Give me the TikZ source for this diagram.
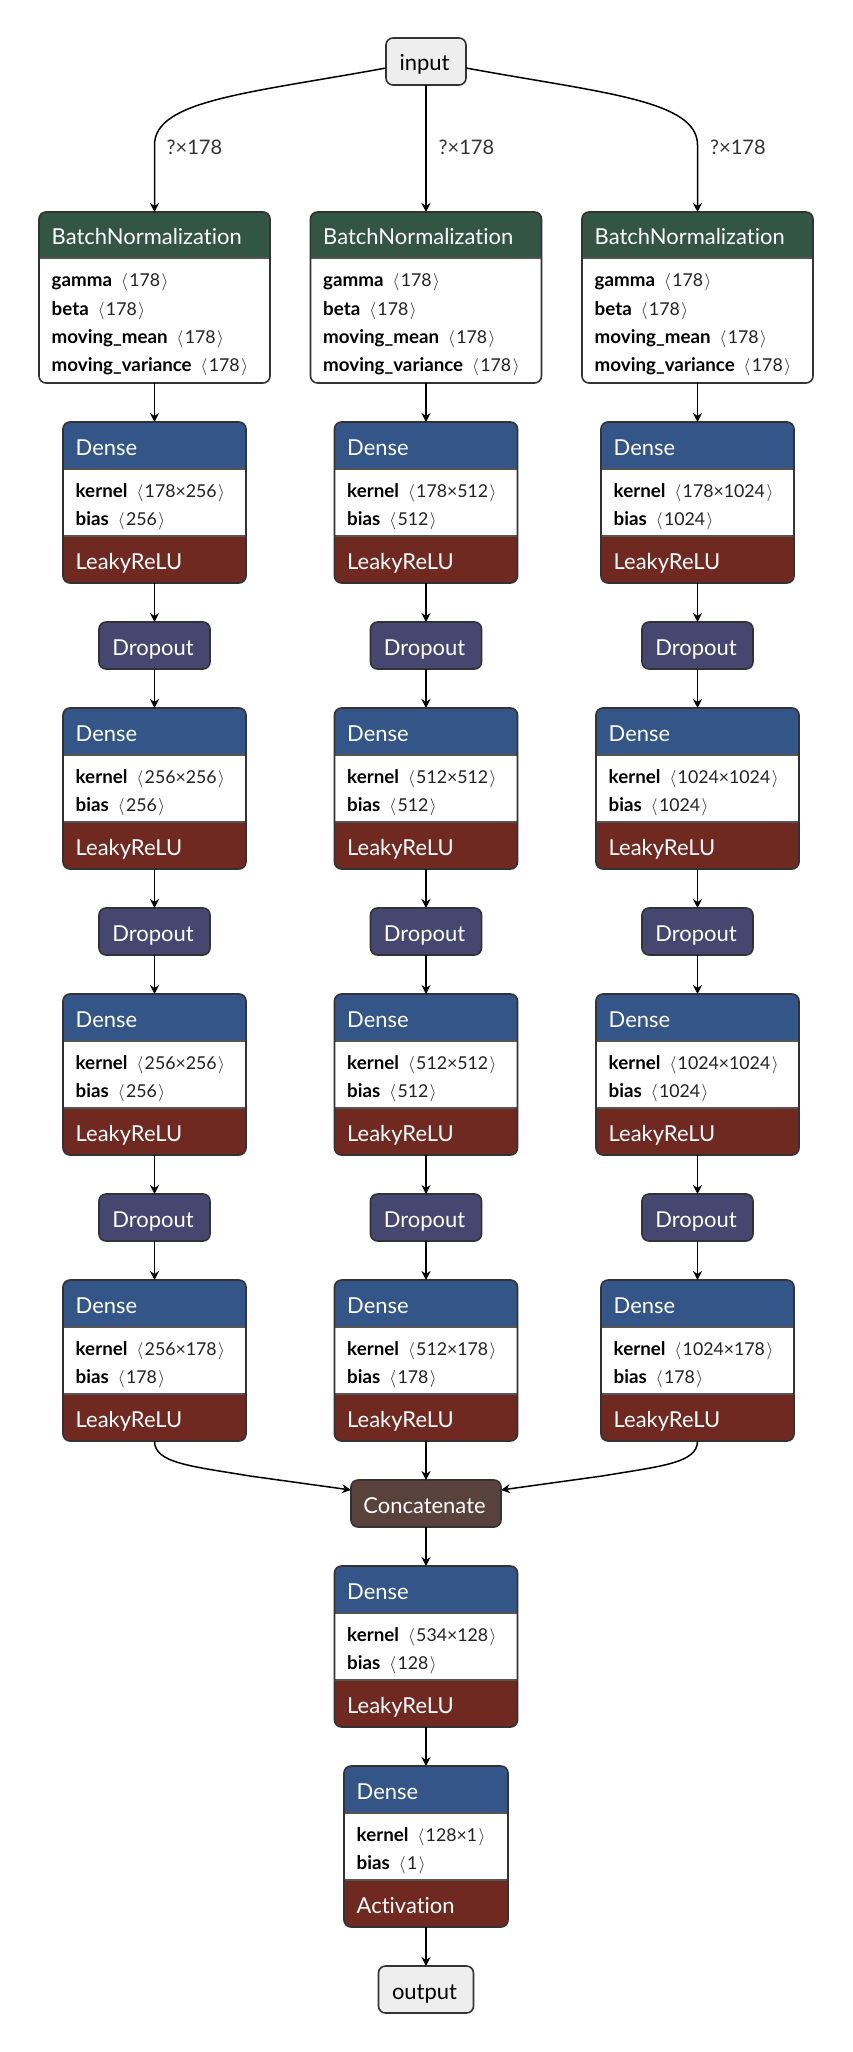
\documentclass[tikz,border=0pt]{standalone}
\usepackage{fontspec}
\setmainfont{Lato}[Ligatures={NoCommon}]
\usetikzlibrary{arrows.meta}
\definecolor{bnc}{HTML}{335544}
\definecolor{densec}{HTML}{335588}
\definecolor{actc}{HTML}{702921}
\definecolor{dropc}{HTML}{454770}
\definecolor{catc}{HTML}{59423B}
\definecolor{iofill}{HTML}{EEEEEE}
\definecolor{framec}{HTML}{333333}
\definecolor{sepc}{HTML}{555555}
\definecolor{valc}{HTML}{222222}
\definecolor{lblc}{HTML}{333333}
\newlength\tw
\newcommand\attr[2]{{\bfnt\bfseries #1}\hspace{9pt}{\vfnt\color{valc}$\langle$\kern1.5pt#2\kern1.5pt$\rangle$}}

% Dense block: name, cx, top, width, kernel, bias, activation
\newcommand\DenseBlk[7]{%
 \pgfmathsetmacro\xl{#2-#4/2}%
 \node[anchor=north, minimum width=#4pt, minimum height=161pt, inner sep=0pt, outer sep=0pt] (#1) at (#2,#3) {};
 \begin{scope}
 \clip[rounded corners=7pt] (#1.north west) rectangle (#1.south east);
 \fill[white] (#1.north west) rectangle (#1.south east);
 \fill[densec] (#1.north west) rectangle ([yshift=-47pt]#1.north east);
 \fill[actc] ([yshift=47pt]#1.south west) rectangle (#1.south east);
 \end{scope}
 \draw[sepline] ([yshift=-47pt]#1.north west) -- ([yshift=-47pt]#1.north east);
 \draw[sepline] ([yshift=47pt]#1.south west) -- ([yshift=47pt]#1.south east);
 \draw[frame] (#1.north west) rectangle (#1.south east);
 \node[htext] at (\xl+12.5,#3+33) {Dense};
 \node[btext] at (\xl+12.5,#3+75) {\attr{kernel}{#5}};
 \node[btext] at (\xl+12.5,#3+103) {\attr{bias}{#6}};
 \node[htext] at (\xl+12.5,#3+147) {#7};
}
% BatchNormalization block: name, cx, top
\newcommand\BNBlk[3]{%
 \pgfmathsetmacro\xl{#2-231/2}%
 \node[anchor=north, minimum width=231pt, minimum height=171pt, inner sep=0pt, outer sep=0pt] (#1) at (#2,#3) {};
 \begin{scope}
 \clip[rounded corners=7pt] (#1.north west) rectangle (#1.south east);
 \fill[white] (#1.north west) rectangle (#1.south east);
 \fill[bnc] (#1.north west) rectangle ([yshift=-46pt]#1.north east);
 \end{scope}
 \draw[sepline] ([yshift=-46pt]#1.north west) -- ([yshift=-46pt]#1.north east);
 \draw[frame] (#1.north west) rectangle (#1.south east);
 \node[htext] at (\xl+12.5,#3+33) {BatchNormalization};
 \node[btext] at (\xl+12.5,#3+75) {\attr{gamma}{178}};
 \node[btext] at (\xl+12.5,#3+103) {\attr{beta}{178}};
 \node[btext] at (\xl+12.5,#3+131) {\attr{moving\_mean}{178}};
 \node[btext] at (\xl+12.5,#3+159) {\attr{moving\_variance}{178}};
}
% simple block: name, cx, top, width, fill, textcolor, text
\newcommand\SimpleBlk[7]{%
 \node[frame, fill=#5, anchor=north, minimum width=#4pt, minimum height=47pt, inner sep=0pt, outer sep=0pt] (#1) at (#2,#3) {};
 \node[anchor=base, inner sep=0pt, text=#6, font=\hfont] at (#2-1.5,#3+33) {#7};
}

\begin{document}
\settowidth\tw{\fontsize{20}{24}\selectfont BatchNormalization}%
\pgfmathsetmacro\hs{20*190/\tw}%
\settowidth\tw{\fontsize{20}{24}\selectfont\bfseries moving\_variance}%
\pgfmathsetmacro\bs{20*140/\tw}%
\settowidth\tw{\fontsize{20}{24}\selectfont 178×256}%
\pgfmathsetmacro\vs{20*72/\tw}%
\settowidth\tw{\fontsize{20}{24}\selectfont ?×178}%
\pgfmathsetmacro\ls{20*55.5/\tw}%
\xdef\hsz{\hs}\xdef\bsz{\bs}\xdef\vsz{\vs}\xdef\lsz{\ls}%
\def\hfont{\fontsize{\hsz}{\hsz}\selectfont}%
\def\bfnt{\fontsize{\bsz}{\bsz}\selectfont}%
\def\vfnt{\fontsize{\vsz}{\vsz}\selectfont}%
\def\lfnt{\fontsize{\lsz}{\lsz}\selectfont}%
\begin{tikzpicture}[x=1pt,y=-1pt]
\tikzset{
 htext/.style={anchor=base west, inner sep=0pt, text=white, font=\hfont},
 btext/.style={anchor=base west, inner sep=0pt, text=black, font=\bfnt},
 lbl/.style={anchor=base west, inner sep=0pt, text=lblc, font=\lfnt},
 frame/.style={draw=framec, line width=1.6pt, rounded corners=7pt},
 sepline/.style={draw=sepc, line width=1.3pt},
 edge/.style={draw=black, line width=1.5pt, -{Stealth[length=9pt,width=9pt,inset=3pt]}},
}
\useasboundingbox (0,0) rectangle (852,2052);
\fill[white] (0,0) rectangle (852,2052);

\SimpleBlk{inp}{426}{38}{80}{iofill}{black}{input}

\BNBlk{bn1}{154.5}{212}
\BNBlk{bn2}{426}{212}
\BNBlk{bn3}{697.5}{212}

\DenseBlk{d11}{154.5}{422}{183}{178×256}{256}{LeakyReLU}
\DenseBlk{d12}{426}{422}{183}{178×512}{512}{LeakyReLU}
\DenseBlk{d13}{697.5}{422}{193}{178×1024}{1024}{LeakyReLU}

\SimpleBlk{p11}{154.5}{622}{111}{dropc}{white}{Dropout}
\SimpleBlk{p12}{426}{622}{111}{dropc}{white}{Dropout}
\SimpleBlk{p13}{697.5}{622}{111}{dropc}{white}{Dropout}

\DenseBlk{d21}{154.5}{708}{183}{256×256}{256}{LeakyReLU}
\DenseBlk{d22}{426}{708}{183}{512×512}{512}{LeakyReLU}
\DenseBlk{d23}{697.5}{708}{203}{1024×1024}{1024}{LeakyReLU}

\SimpleBlk{p21}{154.5}{908}{111}{dropc}{white}{Dropout}
\SimpleBlk{p22}{426}{908}{111}{dropc}{white}{Dropout}
\SimpleBlk{p23}{697.5}{908}{111}{dropc}{white}{Dropout}

\DenseBlk{d31}{154.5}{994}{183}{256×256}{256}{LeakyReLU}
\DenseBlk{d32}{426}{994}{183}{512×512}{512}{LeakyReLU}
\DenseBlk{d33}{697.5}{994}{203}{1024×1024}{1024}{LeakyReLU}

\SimpleBlk{p31}{154.5}{1194}{111}{dropc}{white}{Dropout}
\SimpleBlk{p32}{426}{1194}{111}{dropc}{white}{Dropout}
\SimpleBlk{p33}{697.5}{1194}{111}{dropc}{white}{Dropout}

\DenseBlk{d41}{154.5}{1280}{183}{256×178}{178}{LeakyReLU}
\DenseBlk{d42}{426}{1280}{183}{512×178}{178}{LeakyReLU}
\DenseBlk{d43}{697.5}{1280}{193}{1024×178}{178}{LeakyReLU}

\SimpleBlk{cat}{426}{1480}{150}{catc}{white}{Concatenate}

\DenseBlk{d5}{426}{1566}{183}{534×128}{128}{LeakyReLU}
\DenseBlk{d6}{426}{1766}{164}{128×1}{1}{Activation}

\SimpleBlk{out}{426}{1966}{95}{iofill}{black}{output}

% edges from input
\draw[edge] ([yshift=-6.5pt]inp.west) .. controls (250,93) and (154.5,100) .. (154.5,145) -- (bn1.north);
\draw[edge] (inp.south) -- (bn2.north);
\draw[edge] ([yshift=-6.5pt]inp.east) .. controls (602,93) and (697.5,100) .. (697.5,145) -- (bn3.north);
\node[lbl] (l1) at (166.5,155) {?×178};
\node[lbl] (l2) at (438.5,155) {?×178};
\node[lbl] (l3) at (710,155) {?×178};

% column chains
\foreach \c in {1,2,3}{
 \draw[edge] (bn\c.south) -- (d1\c.north);
 \draw[edge] (d1\c.south) -- (p1\c.north);
 \draw[edge] (p1\c.south) -- (d2\c.north);
 \draw[edge] (d2\c.south) -- (p2\c.north);
 \draw[edge] (p2\c.south) -- (d3\c.north);
 \draw[edge] (d3\c.south) -- (p3\c.north);
 \draw[edge] (p3\c.south) -- (d4\c.north);
}

% into concatenate
\draw[edge] (d41.south) .. controls (154.5,1463) and (190,1466) .. (250,1476) -- ([yshift=-10pt]cat.north west);
\draw[edge] (d42.south) -- (cat.north);
\draw[edge] (d43.south) .. controls (697.5,1463) and (662,1466) .. (602,1476) -- ([yshift=-10pt]cat.north east);

\draw[edge] (cat.south) -- (d5.north);
\draw[edge] (d5.south) -- (d6.north);
\draw[edge] (d6.south) -- (out.north);
\end{tikzpicture}
\end{document}
